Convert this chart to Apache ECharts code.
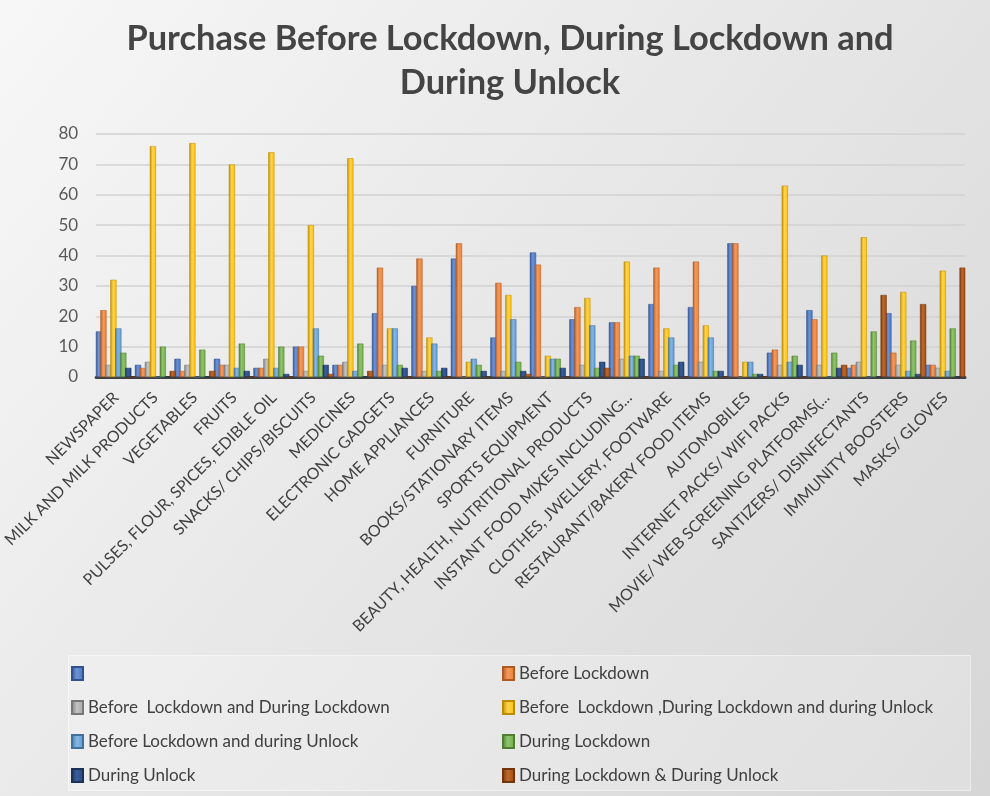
<!DOCTYPE html>
<html>
<head>
<meta charset="utf-8">
<script src="https://cdn.jsdelivr.net/npm/echarts@6/dist/echarts.min.js"></script>
<style>
html,body{margin:0;padding:0;background:#ffffff;}
#chart{width:990px;height:796px;}
</style>
</head>
<body>
<div id="chart"></div>
<script>
var categories = ['NEWSPAPER','MILK AND MILK PRODUCTS','VEGETABLES','FRUITS','PULSES, FLOUR, SPICES, EDIBLE OIL','SNACKS/ CHIPS/BISCUITS','MEDICINES','ELECTRONIC GADGETS','HOME APPLIANCES','FURNITURE','BOOKS/STATIONARY ITEMS','SPORTS EQUIPMENT','BEAUTY, HEALTH, NUTRITIONAL PRODUCTS','INSTANT FOOD MIXES INCLUDING...','CLOTHES, JWELLERY, FOOTWARE','RESTAURANT/BAKERY FOOD ITEMS','AUTOMOBILES','INTERNET PACKS/ WIFI PACKS','MOVIE/ WEB SCREENING PLATFORMS(...','SANTIZERS/ DISINFECTANTS','IMMUNITY BOOSTERS','MASKS/ GLOVES'];

var seriesNames = [' ', 'Before Lockdown', 'Before  Lockdown and During Lockdown', 'Before  Lockdown ,During Lockdown and during Unlock', 'Before Lockdown and during Unlock', 'During Lockdown', 'During Unlock', 'During Lockdown & During Unlock'];

var blankSeries       = [15,4,6,6,3,10,4,21,30,39,13,41,19,18,24,23,44,8,22,3,21,4];
var beforeLockdown    = [22,3,2,4,3,10,4,36,39,44,31,37,23,18,36,38,44,9,19,4,8,4];
var beforeAndDuring   = [4,5,4,4,6,2,5,4,2,0,2,0,4,6,2,5,0,4,4,5,4,3];
var allThree          = [32,76,77,70,74,50,72,16,13,5,27,7,26,38,16,17,5,63,40,46,28,35];
var beforeAndUnlock   = [16,0,0,3,3,16,2,16,11,6,19,6,17,7,13,13,5,5,0,0,2,2];
var duringLockdown    = [8,10,9,11,10,7,11,4,2,4,5,6,3,7,4,2,1,7,8,15,12,16];
var duringUnlock      = [3,0,0,2,1,4,0,3,3,2,2,3,5,6,5,2,1,4,3,0,1,0];
var lockdownAndUnlock = [0,2,2,0,0,1,2,0,0,0,1,0,3,0,0,0,0,0,4,27,24,36];

var yTicks = [0,10,20,30,40,50,60,70,80];

var seriesData = [blankSeries, beforeLockdown, beforeAndDuring, allThree, beforeAndUnlock, duringLockdown, duringUnlock, lockdownAndUnlock];
var colors = ['#4472C4','#ED7D31','#A5A5A5','#FFC000','#5B9BD5','#70AD47','#264478','#9E480E'];
var darks  = ['#2F528F','#AE5A21','#787878','#BC8C00','#41719C','#507E32','#1B3157','#733509'];
var lights = ['#6E93D6','#F49A5E','#C4C4C4','#FFD34D','#86B7E3','#8FC46C','#3A5F9E','#BF6A2C'];

var chart = echarts.init(document.getElementById('chart'));

var series = seriesData.map(function(d, i){
  return {
    name: seriesNames[i],
    type: 'bar',
    data: d,
    barWidth: 6.2,
    barGap: '-20%',
    itemStyle: {
      color: new echarts.graphic.LinearGradient(0,0,1,0,[
        {offset:0, color: darks[i]},
        {offset:0.45, color: lights[i]},
        {offset:1, color: colors[i]}
      ]),
      borderColor: darks[i],
      borderWidth: 0.5
    }
  };
});

var legendText = {fontFamily:'Lato', fontSize:17, color:'#404040'};

chart.setOption({
  animation: false,
  backgroundColor: new echarts.graphic.LinearGradient(0,0,1,1,[
    {offset:0, color:'#f7f7f7'},
    {offset:1, color:'#d6d6d6'}
  ]),
  color: colors,
  title: {
    text: 'Purchase Before Lockdown, During Lockdown and\nDuring Unlock',
    left: 505,
    textAlign: 'center',
    top: 12,
    textStyle: {fontFamily:'Lato', fontWeight:'bold', fontSize:34.4, color:'#444444', lineHeight:44}
  },
  graphic: [{
    type:'rect', left:68, top:655, shape:{width:902, height:135},
    style:{fill:'rgba(255,255,255,0.22)', stroke:'rgba(255,255,255,0.5)', lineWidth:1}, z:-1
  }],
  legend: [{
    data: [seriesNames[0], seriesNames[2], seriesNames[4], seriesNames[6]],
    orient: 'vertical', left: 71, top: 665, padding: 0,
    itemWidth: 11, itemHeight: 13, itemGap: 17,
    icon: 'rect', textStyle: legendText
  },{
    data: [seriesNames[1], seriesNames[3], seriesNames[5], seriesNames[7]],
    orient: 'vertical', left: 502, top: 665, padding: 0,
    itemWidth: 11, itemHeight: 13, itemGap: 17,
    icon: 'rect', textStyle: legendText
  }],
  grid: {left: 92, right: 25, top: 134, bottom: 419, containLabel: false},
  xAxis: {
    type: 'category',
    data: categories,
    axisTick: {show:false},
    axisLine: {lineStyle:{color:'#404040', width:3}},
    axisLabel: {rotate:45, interval:0, fontFamily:'Lato', fontSize:16, color:'#404040', margin:18}
  },
  yAxis: {
    type: 'value',
    min: yTicks[0], max: yTicks[yTicks.length-1], interval: 10,
    axisLine: {show:false},
    axisTick: {show:false},
    axisLabel: {fontFamily:'Lato', fontSize:17, color:'#595959', margin:18},
    splitLine: {lineStyle:{color:'#d2d2d2', width:1.5}}
  },
  series: series
});
</script>
</body>
</html>
